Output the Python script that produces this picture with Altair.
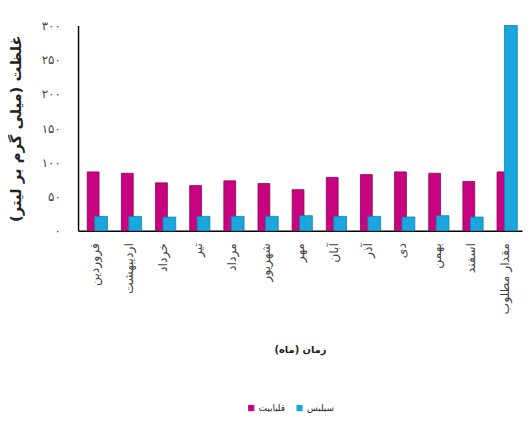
import altair as alt
import pandas as pd

months = ["فروردین", "اردیبهشت", "خرداد", "تیر", "مرداد", "شهریور", "مهر",
          "آبان", "آذر", "دی", "بهمن", "اسفند", "مقدار مطلوب"]
alkalinity = [86, 84, 70, 66, 73, 69, 60, 78, 82, 86, 84, 72, 86]
silica = [21, 21, 20, 21, 21, 21, 22, 21, 21, 20, 22, 20, 300]
series_names = ["قلیاییت", "سیلیس"]
series_colors = ["#C8037F", "#1BA6DE"]
y_tick_values = [0, 50, 100, 150, 200, 250, 300]
y_tick_labels = ["۰", "۵۰", "۱۰۰", "۱۵۰", "۲۰۰", "۲۵۰", "۳۰۰"]
y_title = "غلظت (میلی گرم بر لیتر)"
x_title = "زمان (ماه)"

rows = []
for m, a, s in zip(months, alkalinity, silica):
    rows.append({"month": m, "series": series_names[0], "value": a})
    rows.append({"month": m, "series": series_names[1], "value": s})
df = pd.DataFrame(rows)

label_expr = "''"
for v, l in reversed(list(zip(y_tick_values, y_tick_labels))):
    label_expr = f"datum.value == {v} ? '{l}' : ({label_expr})"

FONT = "DejaVu Sans"

x_enc = alt.X(
    "month:N", sort=months, title=x_title,
    scale=alt.Scale(paddingInner=0, paddingOuter=0),
    axis=alt.Axis(labelAngle=-90, labelFontSize=12.5, labelPadding=12, ticks=False,
                  labelColor="#444444", domainColor="black", domainWidth=1.5,
                  titleFontSize=10, titleFontWeight="bold", titleY=115,
                  titleColor="#222222"),
)
y_enc = alt.Y(
    "value:Q", title=y_title,
    scale=alt.Scale(domain=[0, 300], nice=False, zero=True),
    axis=alt.Axis(values=y_tick_values, labelExpr=label_expr, ticks=False, grid=False,
                  labelFontSize=12, labelPadding=18, labelColor="#444444",
                  domainColor="black", domainWidth=1.5,
                  titleFontSize=15, titleFontWeight="bold", titleX=-63,
                  titleBaseline="middle", titleColor="#222222"),
)
color_enc = alt.Color(
    "series:N",
    scale=alt.Scale(domain=series_names, range=series_colors),
    legend=alt.Legend(orient="none", legendX=171, legendY=383, direction="horizontal",
                      title=None, symbolType="square", symbolSize=40,
                      symbolStrokeWidth=0, labelFontSize=9, labelFont=FONT,
                      labelColor="#222222", columnPadding=10, labelOffset=3, padding=0),
)

base = alt.Chart(df).encode(x=x_enc, y=y_enc, color=color_enc)

alk = base.transform_filter(alt.datum.series == series_names[0]).mark_bar(
    size=12, xOffset=-2, stroke="#8A0058", strokeWidth=0.8)
sil = base.transform_filter(alt.datum.series == series_names[1]).mark_bar(
    size=13, xOffset=6, stroke="#0F7FB0", strokeWidth=0.8)

chart = alt.layer(alk, sil).properties(
    width=450, height=208,
    autosize=alt.AutoSizeParams(type="none"),
    padding={"left": 71, "top": 15, "right": 1, "bottom": 184},
).configure_axis(labelFont=FONT, titleFont=FONT).configure_view(stroke=None)

chart.save("out.html", embed_options={"renderer": "svg", "actions": False})
